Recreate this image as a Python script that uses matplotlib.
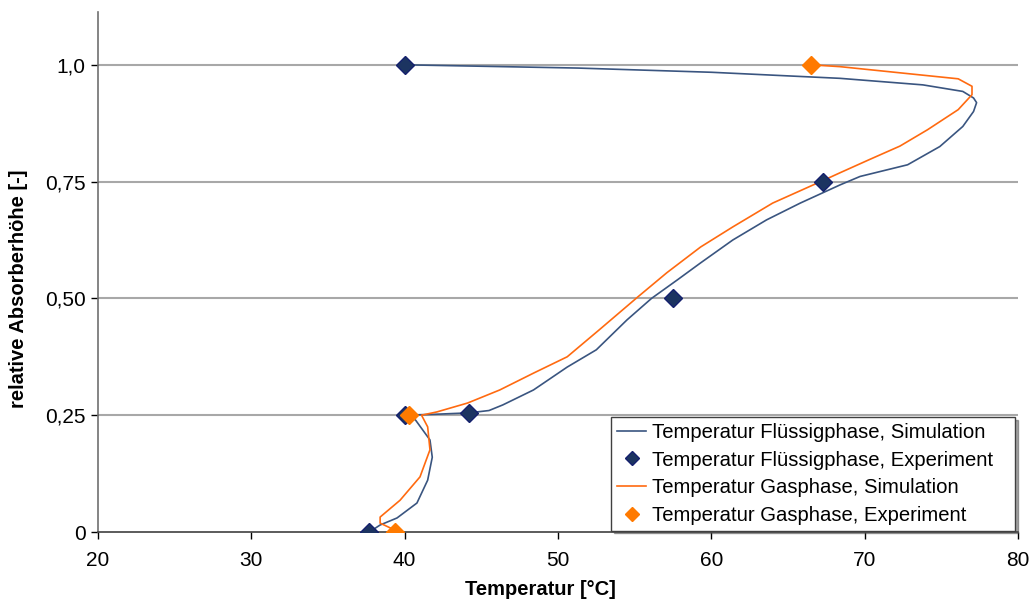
import matplotlib
matplotlib.use("Agg")
import matplotlib.pyplot as plt

plt.rcParams['font.family'] = ['Liberation Sans', 'DejaVu Sans']

# Simulation: liquid phase temperature [°C] vs relative height [-]
liq_sim_T = [37.7, 38.4, 39.5, 40.8, 41.5, 41.8, 41.65, 40.7, 40.0, 42.0, 44.2, 45.5, 46.4,
             48.4, 50.6, 52.5, 54.5, 56.1, 57.8, 59.3, 61.4, 63.6, 65.8, 68.4, 69.7, 72.8,
             74.9, 76.4, 77.1, 77.3, 77.1, 76.4, 73.8, 68.4, 60.0, 51.3, 40.0]
liq_sim_h = [0.0, 0.015, 0.030, 0.062, 0.111, 0.16, 0.197, 0.24, 0.25, 0.252, 0.255, 0.260, 0.272,
             0.304, 0.353, 0.39, 0.454, 0.50, 0.54, 0.576, 0.625, 0.668, 0.704, 0.743, 0.761, 0.786,
             0.825, 0.868, 0.90, 0.919, 0.929, 0.943, 0.957, 0.971, 0.984, 0.993, 1.0]

# Simulation: gas phase
gas_sim_T = [39.3, 38.4, 38.4, 39.7, 41.0, 41.65, 41.5, 41.1, 42.1, 44.1, 46.2, 48.4, 50.6,
             52.7, 55.2, 57.1, 59.3, 61.4, 64.0, 67.4, 68.4, 70.3, 72.3, 74.1, 76.1, 77.0,
             77.0, 76.1, 68.4, 66.5]
gas_sim_h = [0.005, 0.019, 0.032, 0.068, 0.118, 0.176, 0.225, 0.25, 0.257, 0.276, 0.304, 0.340, 0.375,
             0.433, 0.503, 0.555, 0.61, 0.653, 0.704, 0.754, 0.769, 0.797, 0.826, 0.861, 0.904, 0.936,
             0.954, 0.970, 0.996, 1.0]

# Experiments
liq_exp_T = [37.7, 40.0, 44.2, 57.5, 67.3, 40.0]
liq_exp_h = [0.0, 0.25, 0.255, 0.50, 0.75, 1.0]
gas_exp_T = [39.4, 40.3, 66.5]
gas_exp_h = [0.0, 0.25, 1.0]

y_ticks = [0, 0.25, 0.5, 0.75, 1.0]
y_tick_labels = ['0', '0,25', '0,50', '0,75', '1,0']
x_ticks = [20, 30, 40, 50, 60, 70, 80]

fig = plt.figure(figsize=(10.35, 6.02), dpi=100)
ax = fig.add_axes([98/1035, 70/602, 920/1035, 520/602])

ax.plot(liq_sim_T, liq_sim_h, color='#3a5580', lw=1.2, zorder=3,
        label='Temperatur Flüssigphase, Simulation')
ax.plot(liq_exp_T, liq_exp_h, ls='none', marker='D', ms=9, mfc='#1c3461', mec='#14206e',
        mew=1.0, zorder=5, label='Temperatur Flüssigphase, Experiment')
ax.plot(gas_sim_T, gas_sim_h, color='#ff6a10', lw=1.2, zorder=4,
        label='Temperatur Gasphase, Simulation')
ax.plot(gas_exp_T, gas_exp_h, ls='none', marker='D', ms=9, mfc='#ff7a00', mec='#ff7a00',
        zorder=6, label='Temperatur Gasphase, Experiment')

ax.set_xlim(20, 80)
ax.set_ylim(0, 1.113)
ax.set_xticks(x_ticks)
ax.set_yticks(y_ticks)
ax.set_yticklabels(y_tick_labels)
ax.tick_params(axis='both', labelsize=15, colors='#000000', length=5, width=1.0,
               direction='out')
ax.tick_params(axis='x', pad=9)
ax.tick_params(axis='y', pad=4)

for v in y_ticks[1:]:
    ax.axhline(v, color='#a8a8a8', lw=1.5, zorder=1)

for s in ['top', 'right']:
    ax.spines[s].set_visible(False)
ax.spines['left'].set_color('#707070')
ax.spines['bottom'].set_color('#404040')
ax.spines['left'].set_linewidth(1.2)
ax.spines['bottom'].set_linewidth(1.2)

ax.set_xlabel('Temperatur [°C]', fontsize=14.5, fontweight='bold')
ax.set_ylabel('relative Absorberhöhe [-]', fontsize=14.5, fontweight='bold')
ax.xaxis.set_label_coords(0.4805, -0.0923)
ax.yaxis.set_label_coords(-0.0761, 0.467)

leg = ax.legend(loc='upper left', bbox_to_anchor=(0.5576, 0.2212, 0.4391, 0.0),
                mode='expand', fontsize=14.6,
                frameon=True, fancybox=False, shadow=True, handlelength=1.45,
                handletextpad=0.25, labelspacing=0.42, borderpad=0.3, borderaxespad=0.0,
                markerscale=0.75)
leg.get_frame().set_edgecolor('#404040')
leg.get_frame().set_linewidth(1.0)

fig.savefig('out.png', dpi=100)
